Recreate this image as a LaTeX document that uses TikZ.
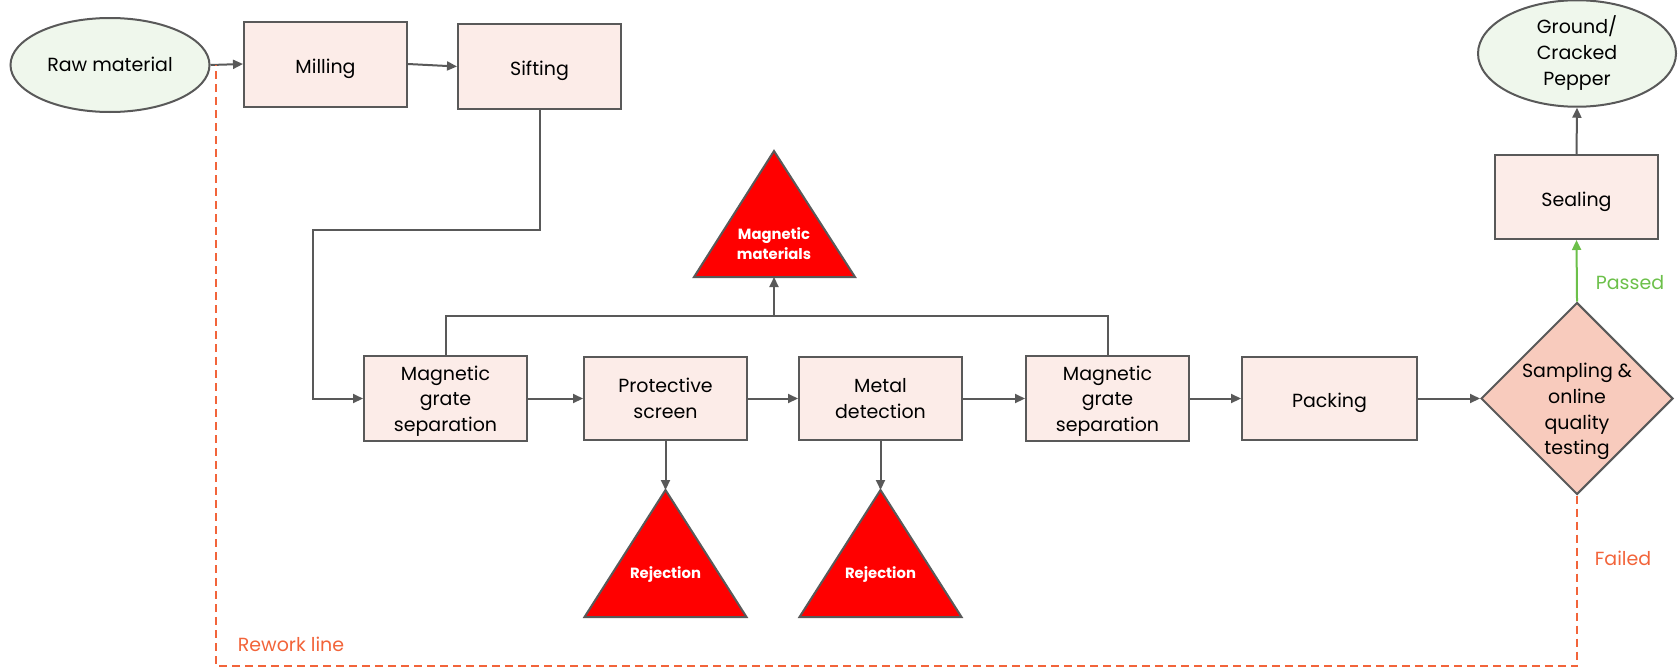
\documentclass[tikz,border=0pt]{standalone}
\usepackage{fontspec}
\setmainfont{Poppins}
\usetikzlibrary{shapes.geometric,arrows.meta}
\definecolor{lineg}{HTML}{595959}
\definecolor{boxfill}{HTML}{FCECE8}
\definecolor{ellfill}{HTML}{EFF7EC}
\definecolor{diafill}{HTML}{F8CBBD}
\definecolor{okgreen}{HTML}{6CC04A}
\definecolor{failorange}{HTML}{F2643A}
\newcommand\firststrut{\rule{0pt}{10.2pt}}
\tikzset{
  txtbase/.style={font=\fontsize{9.5}{12.85}\selectfont, align=center, text=black},
  boxtxt/.style={txtbase, execute at begin node={\rule{0pt}{12.2pt}}, execute at end node={\rule[-3pt]{0pt}{3pt}}},
  elltxt/.style={txtbase, execute at begin node={\rule{0pt}{9pt}}, execute at end node={\rule[-3pt]{0pt}{3pt}}},
  procbox/.style={boxtxt, draw=lineg, fill=boxfill, line width=1pt, rectangle, minimum width=81.5pt, minimum height=41.5pt, inner sep=2pt},
  startend/.style={elltxt, draw=lineg, fill=ellfill, line width=1pt, ellipse, inner sep=0pt},
  decide/.style={draw=lineg, fill=diafill, line width=1pt, diamond, minimum width=96pt, minimum height=96pt, inner sep=0pt},
  arr/.style={draw=lineg, line width=1pt, -{Triangle[length=5pt,width=4.5pt]}},
  plainline/.style={draw=lineg, line width=1pt},
  warn/.style={draw=lineg, fill=red, line width=1pt, line join=miter},
  warntxt/.style={font=\fontsize{7.4}{10.2}\selectfont\bfseries, text=white, align=center},
  rework/.style={draw=failorange, line width=1pt, dash pattern=on 4pt off 2.5pt},
  lbl/.style={font=\fontsize{9.5}{12}\selectfont},
}
\begin{document}
\begin{tikzpicture}[x=0.5pt,y=-0.5pt]
\useasboundingbox (0,0) rectangle (1679,669);

% nodes
\node[startend, minimum width=99.5pt, minimum height=47pt] (raw) at (110,65) {Raw material};
\node[procbox, minimum height=42.5pt] (mill) at (325.5,64) {Milling};
\node[procbox, minimum height=42.5pt] (sift) at (539.5,66.5) {Sifting};
\node[procbox] (mgs1) at (445.5,398.5) {\firststrut Magnetic\\grate\\separation};
\node[procbox] (prot) at (665.5,398.5) {\firststrut Protective\\screen};
\node[procbox] (metal) at (880.5,398.5) {\firststrut Metal\\detection};
\node[procbox] (mgs2) at (1107.5,398.5) {\firststrut Magnetic\\grate\\separation};
\node[procbox, minimum width=87.5pt] (pack) at (1329.5,398.5) {Packing};
\node[decide] (test) at (1577,398.5) {};
\node[boxtxt] (testtxt) at (1577,409) {\firststrut Sampling \&\\online\\quality\\testing};
\node[procbox, minimum height=42pt] (seal) at (1576.5,197) {Sealing};
\node[startend, minimum width=99pt, minimum height=50.5pt] (out) at (1577,53.5) {Ground/\\Cracked\\Pepper};

% triangles
\draw[warn] (694,277) -- (774,151) -- (855,277) -- cycle;
\node[warntxt] (mm) at (774,243.5) {Magnetic\\materials};
\coordinate (mmb) at (774,277);
\draw[warn] (584.5,617) -- (665.5,490) -- (746.5,617) -- cycle;
\node[warntxt] (rej1) at (665.5,575) {Rejection};
\coordinate (rej1a) at (665.5,490);
\draw[warn] (799.5,617) -- (880.5,490) -- (961.5,617) -- cycle;
\node[warntxt] (rej2) at (880.5,575) {Rejection};
\coordinate (rej2a) at (880.5,490);

% connectors
\draw[arr] (raw.east) -- (mill.west);
\draw[arr] (mill.east) -- (sift.west);
\coordinate (bend1) at (313,230);
\draw[arr] (sift.south) |- (bend1) |- (mgs1.west);
\draw[arr] (mgs1) -- (prot);
\draw[arr] (prot) -- (metal);
\draw[arr] (metal) -- (mgs2);
\draw[arr] (mgs2) -- (pack);
\draw[arr] (pack) -- (test);
\draw[arr, draw=okgreen, -{Triangle[length=5pt,width=4.5pt]}] (test.north) -- (seal.south);
\draw[arr] (seal.north) -- (out.south);
\coordinate (bus) at (774,316);
\draw[plainline] (mgs1.north) |- (bus) -| (mgs2.north);
\draw[arr] (bus) -- (mmb);
\draw[arr] (prot.south) -- (rej1a);
\draw[arr] (metal.south) -- (rej2a);

% rework line
\coordinate (rwc) at (216,666);
\coordinate (rwtop) at (216,65);
\draw[rework] (test.south) |- (rwc) -- (rwtop);

% labels
\node[lbl, text=okgreen] (passed) at (1630,283) {Passed};
\node[lbl, text=failorange] (failed) at (1623,558) {Failed};
\node[lbl, text=failorange] (rwl) at (291,644) {Rework line};
\end{tikzpicture}
\end{document}
